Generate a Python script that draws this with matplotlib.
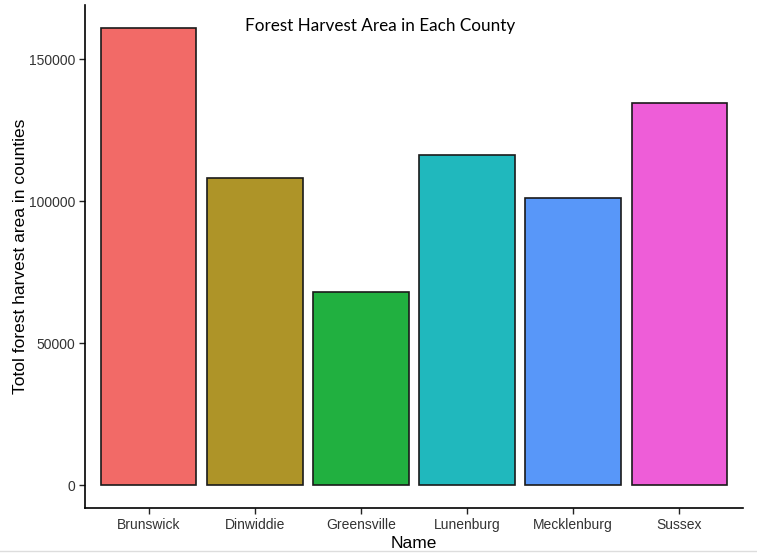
import matplotlib
matplotlib.use("Agg")
import matplotlib.pyplot as plt

counties = ["Brunswick", "Dinwiddie", "Greensville", "Lunenburg", "Mecklenburg", "Sussex"]
harvest_area = [161000, 108000, 68000, 116200, 101000, 134500]
colors = ["#F26A67", "#AE9428", "#21B040", "#20B8BD", "#5897F9", "#EE5DD8"]
yticks = [0, 50000, 100000, 150000]

W, H = 757, 553
fig = plt.figure(figsize=(W / 100, H / 100), dpi=100)
ax = fig.add_axes([85 / W, (H - 508) / H, (743 - 85) / W, (508 - 5) / H])

x = list(range(len(counties)))
ax.bar(x, harvest_area, width=0.9, color=colors, edgecolor="#1a1a1a", linewidth=1.2)

ax.set_xlim(-0.6, len(counties) - 1 + 0.6)
ymax = max(harvest_area)
ax.set_ylim(-0.05 * ymax, ymax * 1.05)
ax.set_xticks(x)
ax.set_xticklabels(counties, fontfamily="Liberation Sans", fontsize=10, color="#333333")
ax.set_yticks(yticks)
ax.set_yticklabels([str(v) for v in yticks], fontfamily="Liberation Sans", fontsize=10, color="#333333")
ax.tick_params(axis="both", length=4, width=1.0, color="#222222", pad=3)

for s in ["top", "right"]:
    ax.spines[s].set_visible(False)
for s in ["left", "bottom"]:
    ax.spines[s].set_linewidth(1.2)
    ax.spines[s].set_color("black")

ax.set_xlabel("Name", fontfamily="Liberation Sans", fontsize=12.5, labelpad=3)
ax.set_ylabel("Totol forest harvest area in counties", fontfamily="Liberation Sans", fontsize=12.5, labelpad=1)

fig.text(380 / W, 1 - 26 / H, "Forest Harvest Area in Each County", ha="center", va="center",
         fontfamily="Lato", fontsize=12.3)

fig.add_artist(plt.Line2D([0, 1], [1 - 551 / H, 1 - 551 / H], color="#dddddd", linewidth=1.0,
                          transform=fig.transFigure))

fig.savefig("out.png", dpi=100)
